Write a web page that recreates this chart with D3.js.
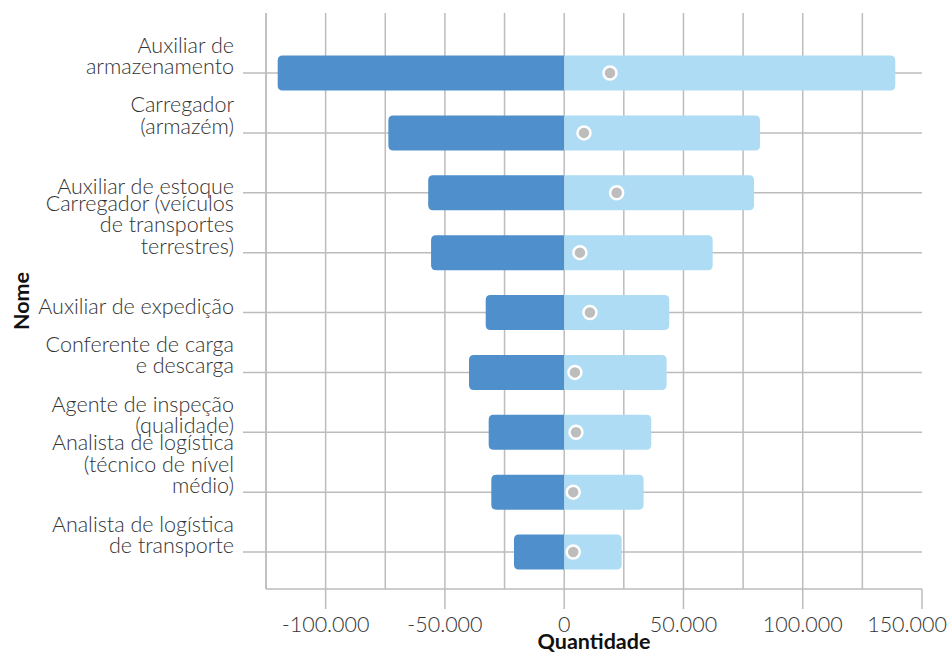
<!DOCTYPE html>
<html>
<head>
<meta charset="utf-8">
<script src="https://cdn.jsdelivr.net/npm/d3@7"></script>
<style>
  body { margin: 0; background: #ffffff; }
  text { font-family: Lato, "Open Sans", sans-serif; }
</style>
</head>
<body>
<div id="chart"></div>
<script>
//Names of the occupations, one array of lines per label
var nomes = [
  ["Auxiliar de", "armazenamento"],
  ["Carregador", "(armazém)"],
  ["Auxiliar de estoque"],
  ["Carregador (veículos", "de transportes", "terrestres)"],
  ["Auxiliar de expedição"],
  ["Conferente de carga", "e descarga"],
  ["Agente de inspeção", "(qualidade)"],
  ["Analista de logística", "(técnico de nível", "médio)"],
  ["Analista de logística", "de transporte"]
];
//Negative side (left bars)
var negativos = [-120100, -73700, -57000, -55800, -32900, -39900, -31650, -30550, -21050];
//Positive side (right bars)
var positivos = [138800, 82100, 79600, 62250, 44050, 42950, 36500, 33300, 24100];
//Grey markers
var pontos = [19200, 8300, 22000, 6600, 10800, 4500, 4950, 3800, 3800];
//Axis ticks
var xTicks = [-100000, -50000, 0, 50000, 100000, 150000];
var xGrid = [-125000, -100000, -75000, -50000, -25000, 0, 25000, 50000, 75000, 100000, 125000];

var W = 949, H = 653;
var margin = {top: 13, right: 27, bottom: 64, left: 266};
var width = W - margin.left - margin.right,
    height = H - margin.top - margin.bottom;

var svg = d3.select("#chart")
   .append("svg")
   .attr("width", W)
   .attr("height", H)
   .append("g")
   .attr("transform", "translate(" + margin.left + "," + margin.top + ")");

var x = d3.scaleLinear()
   .domain([-125000, 150000])
   .range([0, width]);

var keys = d3.range(nomes.length);
//first row sits 60px below the top, last row 37px above the axis
var y = d3.scalePoint()
   .domain(keys)
   .range([60, height - 37]);

var ptBR = d3.formatLocale({decimal: ",", thousands: ".", grouping: [3], currency: ["R$", ""], minus: "-"});
var fmt = ptBR.format(",d");

var gridColor = "#bcbcbc";
var barH = 35, rad = 5;
var fontSize = "21.5px";

//Vertical grid lines
svg.selectAll(".vgrid")
   .data(xGrid)
   .enter().append("line")
   .attr("x1", function(d) { return x(d); })
   .attr("x2", function(d) { return x(d); })
   .attr("y1", 0)
   .attr("y2", height)
   .style("stroke", gridColor)
   .style("stroke-width", 1.5);

//Horizontal grid lines (with tick stub left of axis)
svg.selectAll(".hgrid")
   .data(keys)
   .enter().append("line")
   .attr("x1", -23)
   .attr("x2", width)
   .attr("y1", function(d) { return y(d); })
   .attr("y2", function(d) { return y(d); })
   .style("stroke", gridColor)
   .style("stroke-width", 1.5);

//x axis line and major ticks
svg.append("line")
   .attr("x1", 0).attr("x2", width)
   .attr("y1", height).attr("y2", height)
   .style("stroke", gridColor)
   .style("stroke-width", 1.5);

svg.selectAll(".xtick")
   .data(xTicks)
   .enter().append("line")
   .attr("x1", function(d) { return x(d); })
   .attr("x2", function(d) { return x(d); })
   .attr("y1", height)
   .attr("y2", height + 20)
   .style("stroke", gridColor)
   .style("stroke-width", 1.5);

var xLabels = svg.selectAll(".xlabel")
   .data(xTicks)
   .enter().append("text")
   .attr("x", function(d) { return x(d); })
   .attr("y", height + 43)
   .attr("text-anchor", "middle")
   .style("font-size", fontSize)
   .style("font-weight", 300)
   .style("fill", "#333")
   .text(function(d) { return fmt(d); });

//keep the last label inside the picture
xLabels.each(function(d) {
  var w = this.getComputedTextLength();
  var right = margin.left + x(d) + w / 2;
  if (right > W - 2) {
    d3.select(this).attr("x", x(d) - (right - (W - 2)));
  }
});

//y axis line
svg.append("line")
   .attr("x1", 0).attr("x2", 0)
   .attr("y1", 0).attr("y2", height)
   .style("stroke", gridColor)
   .style("stroke-width", 1.5);

//y labels, last line sits on the tick
var lineH = 21.5;
svg.selectAll(".ylabel")
   .data(keys)
   .enter().append("text")
   .attr("text-anchor", "end")
   .style("font-size", fontSize)
   .style("font-weight", 300)
   .style("fill", "#333")
   .each(function(i) {
     var lines = nomes[i];
     var t = d3.select(this);
     lines.forEach(function(s, k) {
       t.append("tspan")
        .attr("x", -32)
        .attr("y", y(i) + 1 - (lines.length - 1 - k) * lineH)
        .text(s);
     });
   });

//path for a bar with only the outer end rounded
function barPath(x0, x1, cy) {
  var top = cy - barH / 2, bot = cy + barH / 2;
  var s = x1 > x0 ? -1 : 1;
  return "M" + x0 + "," + top +
    "H" + (x1 + s * rad) + "Q" + x1 + "," + top + " " + x1 + "," + (top + rad) +
    "V" + (bot - rad) + "Q" + x1 + "," + bot + " " + (x1 + s * rad) + "," + bot +
    "H" + x0 + "Z";
}

svg.selectAll(".neg")
   .data(keys)
   .enter().append("path")
   .attr("d", function(i) { return barPath(x(0), x(negativos[i]), y(i)); })
   .style("fill", "#4f8fcb");

svg.selectAll(".pos")
   .data(keys)
   .enter().append("path")
   .attr("d", function(i) { return barPath(x(0), x(positivos[i]), y(i)); })
   .style("fill", "#aedcf5");

svg.selectAll(".ponto")
   .data(keys)
   .enter().append("circle")
   .attr("cx", function(i) { return x(pontos[i]); })
   .attr("cy", function(i) { return y(i); })
   .attr("r", 6.5)
   .style("fill", "#bdbdbd")
   .style("stroke", "#ffffff")
   .style("stroke-width", 2.5);

//Axis titles
svg.append("text")
   .attr("x", width / 2)
   .attr("y", height + 60)
   .attr("text-anchor", "middle")
   .style("font-size", fontSize)
   .style("font-weight", "bold")
   .style("fill", "#111")
   .text("Quantidade");

svg.append("text")
   .attr("transform", "translate(" + (-margin.left + 29) + "," + (height / 2) + ") rotate(-90)")
   .attr("text-anchor", "middle")
   .style("font-size", fontSize)
   .style("font-weight", "bold")
   .style("fill", "#111")
   .text("Nome");
</script>
</body>
</html>
